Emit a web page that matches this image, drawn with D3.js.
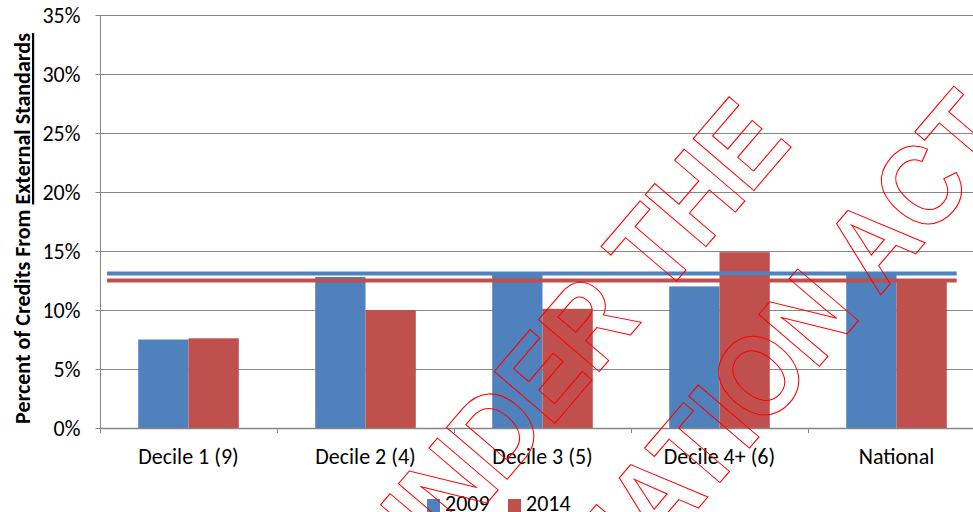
<!DOCTYPE html>
<html>
<head>
<meta charset="utf-8">
<script src="https://cdn.jsdelivr.net/npm/d3@7"></script>
<style>
  html, body { margin: 0; padding: 0; background: #fff; }
  svg { display: block; }
  text { font-family: Carlito, Calibri, Lato, "Open Sans", sans-serif; }
</style>
</head>
<body>
<svg id="chart" width="973" height="512"></svg>
<script>
// Share of credits earned from external standards, by school decile group
const categories = ["Decile 1 (9)", "Decile 2 (4)", "Decile 3 (5)", "Decile 4+ (6)", "National"];
const seriesNames = ["2009", "2014"];
const values2009 = [0.075, 0.128, 0.130, 0.120, 0.131];
const values2014 = [0.076, 0.100, 0.101, 0.149, 0.125];
// National reference levels drawn across the whole chart
const nationalLevels = [0.131, 0.125];
// Category-index span covered by the national reference lines
const referenceSpan = [-0.46, 4.34];
const yTicks = [0, 0.05, 0.10, 0.15, 0.20, 0.25, 0.30, 0.35];
const yTitlePlain = "Percent of Credits From ";
const yTitleUnderlined = "External Standards";
const watermarkLines = ["UNDER THE", "INFORMATION ACT"];

const colors = { "2009": "#4F81BD", "2014": "#C0504D" };
const gridColor = "#868686";

const svg = d3.select("#chart");
const plot = { left: 100, right: 985, top: 15, bottom: 428 };

const y = d3.scaleLinear().domain([0, 0.35]).range([plot.bottom, plot.top]);
const x0 = d3.scaleBand().domain(categories).range([plot.left, plot.right]).paddingInner(0).paddingOuter(0);
const x1 = d3.scaleBand().domain(seriesNames).range([0, x0.bandwidth()]).paddingInner(0).paddingOuter(0.76);
// continuous position by category index, for the reference lines
const xIdx = d3.scaleLinear().domain([-0.5, categories.length - 0.5]).range([plot.left, plot.right]);

// horizontal gridlines
svg.append("g")
  .selectAll("line")
  .data(yTicks.filter(d => d > 0))
  .join("line")
  .attr("x1", plot.left).attr("x2", plot.right)
  .attr("y1", d => Math.round(y(d)) + 0.5).attr("y2", d => Math.round(y(d)) + 0.5)
  .attr("stroke", gridColor).attr("stroke-width", 1);

// bars
const rows = categories.map((c, i) => ({ category: c, "2009": values2009[i], "2014": values2014[i] }));
svg.append("g")
  .selectAll("g")
  .data(rows)
  .join("g")
  .attr("transform", d => `translate(${x0(d.category)},0)`)
  .selectAll("rect")
  .data(d => seriesNames.map(s => ({ series: s, value: d[s] })))
  .join("rect")
  .attr("x", d => x1(d.series))
  .attr("width", x1.bandwidth())
  .attr("y", d => y(d.value))
  .attr("height", d => y(0) - y(d.value))
  .attr("fill", d => colors[d.series]);

// y axis
const yAxis = svg.append("g")
  .attr("transform", `translate(${plot.left + 0.5},0)`)
  .call(d3.axisLeft(y).tickValues(yTicks).tickFormat(d3.format(".0%")).tickSize(5).tickPadding(15));
yAxis.select(".domain").attr("stroke", gridColor).attr("d", `M0,${plot.top}V${plot.bottom}`);
yAxis.selectAll(".tick line").attr("stroke", gridColor);
yAxis.selectAll(".tick text")
  .attr("font-size", 22).attr("fill", "#000")
  .style("font-family", "Carlito, Calibri, Lato, sans-serif");

// x axis baseline and category divider ticks
const xAxis = svg.append("g");
xAxis.append("line")
  .attr("x1", plot.left).attr("x2", plot.right)
  .attr("y1", Math.round(y(0)) + 0.5).attr("y2", Math.round(y(0)) + 0.5)
  .attr("stroke", gridColor).attr("stroke-width", 1.5);
const dividers = categories.map(c => x0(c)).concat([x0.range()[1]]);
xAxis.selectAll("line.div")
  .data(dividers)
  .join("line")
  .attr("class", "div")
  .attr("x1", d => Math.round(d) + 0.5).attr("x2", d => Math.round(d) + 0.5)
  .attr("y1", y(0)).attr("y2", y(0) + 5)
  .attr("stroke", gridColor);
xAxis.selectAll("text")
  .data(categories)
  .join("text")
  .attr("x", d => x0(d) + x0.bandwidth() / 2)
  .attr("y", y(0) + 36)
  .attr("text-anchor", "middle")
  .attr("font-size", 22)
  .attr("fill", "#000")
  .text(d => d);

// national reference lines
svg.append("g")
  .selectAll("line")
  .data(seriesNames.map((s, i) => ({ series: s, value: nationalLevels[i] })))
  .join("line")
  .attr("x1", xIdx(referenceSpan[0])).attr("x2", xIdx(referenceSpan[1]))
  .attr("y1", d => y(d.value)).attr("y2", d => y(d.value))
  .attr("stroke", d => colors[d.series])
  .attr("stroke-width", 4);

// y axis title
const yTitle = svg.append("text")
  .attr("transform", `translate(30,${(plot.top + plot.bottom) / 2 + 7}) rotate(-90)`)
  .attr("text-anchor", "middle")
  .attr("font-size", 22)
  .attr("font-weight", "bold")
  .attr("fill", "#000");
yTitle.append("tspan").text(yTitlePlain);
yTitle.append("tspan").style("text-decoration", "underline").text(yTitleUnderlined);

// legend
const legend = svg.append("g").attr("transform", "translate(427,499)");
const legendItems = legend.selectAll("g")
  .data(seriesNames)
  .join("g")
  .attr("transform", (d, i) => `translate(${i * 81},0)`);
legendItems.append("rect")
  .attr("width", 13).attr("height", 13)
  .attr("fill", d => colors[d]);
legendItems.append("text")
  .attr("x", 18).attr("y", 12)
  .attr("font-size", 22)
  .attr("fill", "#000")
  .text(d => d);

// diagonal outlined stamp across the chart
const stamp = svg.append("g")
  .attr("transform", "rotate(-49.5) scale(0.88,1)")
  .attr("fill", "none")
  .attr("stroke", "#FF0000")
  .attr("stroke-width", 1.1);
stamp.selectAll("text")
  .data(watermarkLines)
  .join("text")
  .attr("x", (d, i) => [406, 555][i] / 0.88)
  .attr("y", (d, i) => [697, 861][i])
  .attr("text-anchor", "end")
  .style("font-family", "'Liberation Sans', Arial, sans-serif")
  .attr("font-weight", "bold")
  .attr("font-size", 116)
  .text(d => d);
</script>
</body>
</html>
